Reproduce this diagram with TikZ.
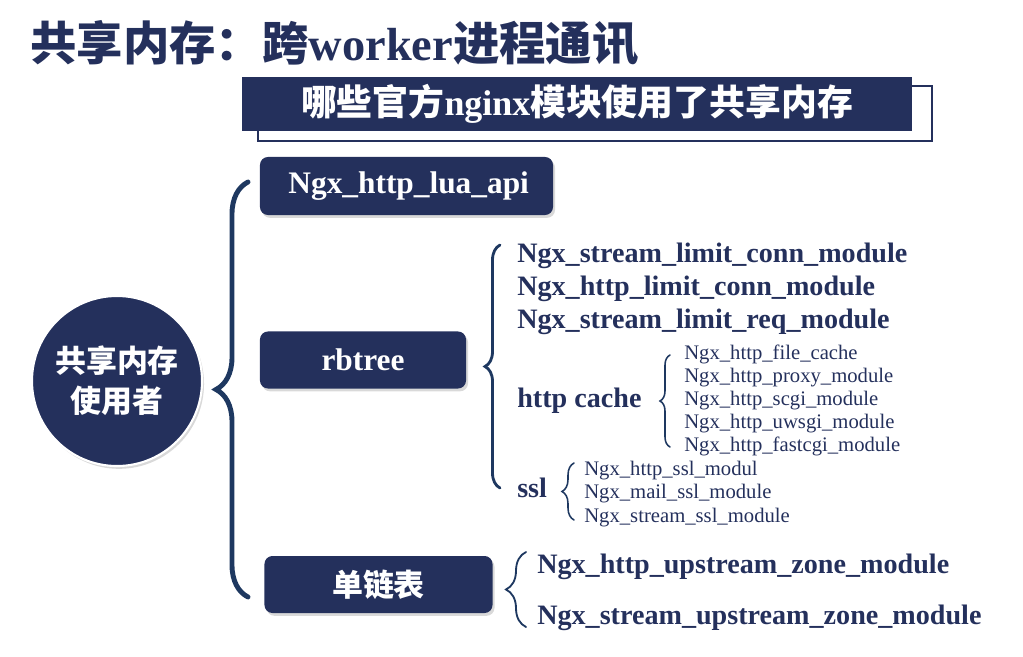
\documentclass[tikz,border=0pt]{standalone}
\usepackage{fontspec}
\setmainfont{Liberation Serif}
\newfontfamily\cjk{Noto Sans CJK SC}
\usepackage{tikz}
\usetikzlibrary{positioning}
\usetikzlibrary{decorations.pathreplacing}
\usetikzlibrary{shadows}
\definecolor{navy}{RGB}{36, 48, 92}
\definecolor{bracenavy}{RGB}{30, 56, 96}
\tikzset{
    box/.style = {
      rectangle,
      rounded corners=0.2cm,
      fill=navy,
      text=white,
      font=\fontsize{22.3}{26}\selectfont\bfseries,
      drop shadow={opacity=0.3, shadow xshift=0.05cm, shadow yshift=-0.07cm}
    },
    hub/.style = {
      circle,
      fill=navy,
      draw=white,
      line width=1.5pt,
      text=white,
      minimum size=4.25cm,
      align=center,
      font=\cjk\bfseries\fontsize{22}{28.4}\selectfont,
      drop shadow={opacity=0.3, shadow xshift=0.05cm, shadow yshift=-0.07cm}
    },
    banner/.style = {
      rectangle,
      fill=navy,
      text=white,
      minimum width=16.75cm,
      minimum height=1.35cm,
      font=\fontsize{25.5}{30}\selectfont\bfseries
    },
    bannerframe/.style = {
      rectangle,
      draw=navy,
      line width=1.6pt,
      minimum width=16.85cm,
      minimum height=1.375cm
    },
    item/.style = {anchor=base west, inner sep=0pt, text=navy, font=\fontsize{20}{24}\selectfont\bfseries},
    subitem/.style = {anchor=base west, inner sep=0pt, text=navy, font=\fontsize{14.7}{17}\selectfont},
    curly/.style = {decorate, decoration={brace, amplitude=#1}, draw=bracenavy, line cap=round},
}
\begin{document}
\begin{tikzpicture}[x=0.025cm, y=-0.025cm]
      \useasboundingbox (0,0) rectangle (1023,656);

      \node[anchor=west, inner sep=0pt, text=navy, font=\fontsize{33}{39}\selectfont\bfseries] (title) at (30,43)
        {{\cjk 共享内存：跨}worker{\cjk 进程通讯}};

      \node[bannerframe] (subframe) at (595,113.5) {};
      \node[banner] (subtitle) at (577,104) {{\cjk 哪些官方}nginx{\cjk 模块使用了共享内存}\hspace{0.75cm}};

      \node[hub] (users) at (117,381) {共享内存\\使用者};

      \node[box, minimum width=7.325cm, minimum height=1.45cm, text width=5.9cm, align=left] (luaapi) at (406.5,186) {Ngx\_http\_lua\_api};
      \node[box, minimum width=5.15cm, minimum height=1.425cm] (rbtree) at (363,360) {rbtree};
      \node[box, minimum width=5.7cm, minimum height=1.425cm, font=\cjk\bfseries\fontsize{22}{26}\selectfont] (slist) at (378.5,584.5) {单链表};

      \coordinate (userstop) at (248,182);
      \coordinate (usersbot) at (248,597);
      \draw[curly=0.8cm, line width=3.5pt] (usersbot) -- (userstop);

      \node[item] (slconn) at (517,262) {Ngx\_stream\_limit\_conn\_module};
      \node[item, below=0.825cm of slconn.base west, anchor=base west] (hlconn) {Ngx\_http\_limit\_conn\_module};
      \node[item, below=0.825cm of hlconn.base west, anchor=base west] (slreq) {Ngx\_stream\_limit\_req\_module};
      \node[item] (httpcache) at (517,407) {http cache};
      \node[item] (ssl) at (517,497) {ssl};

      \coordinate (rbtop) at (500,245);
      \coordinate (rbbot) at (500,488);
      \draw[curly=0.375cm, line width=2pt] (rbbot) -- (rbtop);

      \node[subitem] (filecache) at (684,359) {Ngx\_http\_file\_cache};
      \node[subitem, below=0.58cm of filecache.base west, anchor=base west] (proxy) {Ngx\_http\_proxy\_module};
      \node[subitem, below=0.58cm of proxy.base west, anchor=base west] (scgi) {Ngx\_http\_scgi\_module};
      \node[subitem, below=0.58cm of scgi.base west, anchor=base west] (uwsgi) {Ngx\_http\_uwsgi\_module};
      \node[subitem, below=0.58cm of uwsgi.base west, anchor=base west] (fastcgi) {Ngx\_http\_fastcgi\_module};

      \coordinate (cachetop) at (670,355);
      \coordinate (cachebot) at (670,447);
      \draw[curly=0.25cm, line width=1.1pt] (cachebot) -- (cachetop);

      \node[subitem] (sslhttp) at (584,475) {Ngx\_http\_ssl\_modul};
      \node[subitem, below=0.59cm of sslhttp.base west, anchor=base west] (sslmail) {Ngx\_mail\_ssl\_module};
      \node[subitem, below=0.59cm of sslmail.base west, anchor=base west] (sslstream) {Ngx\_stream\_ssl\_module};

      \coordinate (ssltop) at (574,463);
      \coordinate (sslbot) at (574,520);
      \draw[curly=0.3cm, line width=1.1pt] (sslbot) -- (ssltop);

      \node[item] (hupzone) at (537,573) {Ngx\_http\_upstream\_zone\_module};
      \node[item, below=1.275cm of hupzone.base west, anchor=base west] (supzone) {Ngx\_stream\_upstream\_zone\_module};

      \coordinate (slisttop) at (526,552);
      \coordinate (slistbot) at (526,627);
      \draw[curly=0.5cm, line width=1.3pt] (slistbot) -- (slisttop);
    \end{tikzpicture}
\end{document}
